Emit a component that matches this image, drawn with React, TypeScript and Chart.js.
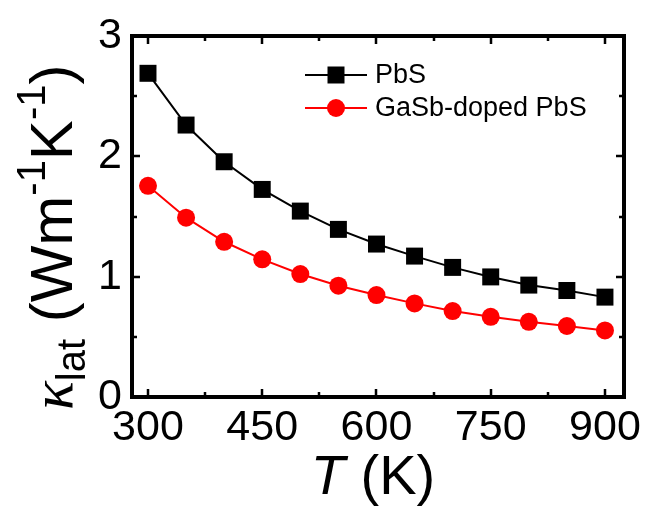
import { useEffect, useRef } from "react";
import { Chart, registerables } from "chart.js";
Chart.register(...registerables);

const temperatures = [300, 350, 400, 450, 500, 550, 600, 650, 700, 750, 800, 850, 900];
const pbsValues = [2.69, 2.26, 1.955, 1.725, 1.545, 1.393, 1.271, 1.171, 1.077, 0.998, 0.93, 0.885, 0.83];
const gasbValues = [1.755, 1.49, 1.29, 1.144, 1.022, 0.925, 0.847, 0.778, 0.714, 0.666, 0.625, 0.59, 0.553];
const seriesNames = ["PbS", "GaSb-doped PbS"];
const xMajorTicks = [300, 450, 600, 750, 900];
const xMinorTicks = [375, 525, 675, 825];
const yMajorTicks = [0, 1, 2, 3];
const yMinorTicks = [0.5, 1.5, 2.5];

const SANS = "'Liberation Sans', Arial, sans-serif";

const framePlugin = {
  id: "frame",
  afterDatasetsDraw(chart: any) {
    const { ctx, chartArea: a, scales } = chart;
    const xs = scales.x;
    const ys = scales.y;
    ctx.save();
    ctx.strokeStyle = "#000";
    ctx.lineWidth = 2.5;
    const drawX = (v: number, len: number) => {
      const px = Math.round(xs.getPixelForValue(v));
      ctx.beginPath();
      ctx.moveTo(px, a.bottom);
      ctx.lineTo(px, a.bottom - len);
      ctx.moveTo(px, a.top);
      ctx.lineTo(px, a.top + len);
      ctx.stroke();
    };
    const drawY = (v: number, len: number) => {
      const py = Math.round(ys.getPixelForValue(v));
      ctx.beginPath();
      ctx.moveTo(a.left, py);
      ctx.lineTo(a.left + len, py);
      ctx.moveTo(a.right, py);
      ctx.lineTo(a.right - len, py);
      ctx.stroke();
    };
    xMajorTicks.forEach((v) => drawX(v, 8));
    xMinorTicks.forEach((v) => drawX(v, 5));
    yMajorTicks.forEach((v) => drawY(v, 8));
    yMinorTicks.forEach((v) => drawY(v, 5));
    ctx.lineWidth = 4;
    ctx.strokeRect(a.left, a.top, a.right - a.left, a.bottom - a.top);

    // legend
    const legendItems = [
      { label: seriesNames[0], color: "#000", style: "rect" },
      { label: seriesNames[1], color: "#ff0000", style: "circle" },
    ];
    const lx0 = 305, lx1 = 367, mx = 336, tx = 375;
    const rows = [75, 108];
    legendItems.forEach((it, i) => {
      const y = rows[i];
      ctx.strokeStyle = it.color;
      ctx.fillStyle = it.color;
      ctx.lineWidth = 2;
      ctx.beginPath();
      ctx.moveTo(lx0, y);
      ctx.lineTo(lx1, y);
      ctx.stroke();
      ctx.beginPath();
      if (it.style === "rect") {
        ctx.rect(mx - 8.5, y - 8.5, 17, 17);
      } else {
        ctx.arc(mx, y, 9, 0, Math.PI * 2);
      }
      ctx.fill();
      ctx.fillStyle = "#000";
      ctx.font = `27px ${SANS}`;
      ctx.textBaseline = "middle";
      ctx.textAlign = "left";
      ctx.fillText(it.label, tx, y + 1);
    });

    // x title: T (K)
    ctx.fillStyle = "#000";
    ctx.textBaseline = "alphabetic";
    ctx.textAlign = "left";
    const fItal = `italic 56px ${SANS}`;
    const fReg = `56px ${SANS}`;
    ctx.font = fItal;
    const wT = ctx.measureText("T").width;
    ctx.font = fReg;
    const wK = ctx.measureText(" (K)").width;
    const cx = (a.left + a.right) / 2 - 5;
    let x = cx - (wT + wK) / 2;
    const by = 494;
    ctx.font = fItal;
    ctx.fillText("T", x, by);
    x += wT;
    ctx.font = fReg;
    ctx.fillText(" (K)", x, by);

    // y title
    ctx.save();
    ctx.translate(72, 410);
    ctx.rotate(-Math.PI / 2);
    let p = 0;
    const piece = (t: string, font: string, dy: number) => {
      ctx.font = font;
      ctx.fillText(t, p, dy);
      p += ctx.measureText(t).width;
    };
    const main = `60px ${SANS}`;
    const small = `40px ${SANS}`;
    piece("\u03ba", `italic 60px 'Liberation Serif', 'Times New Roman', serif`, 0);
    piece("lat", small, 13);
    piece(" (Wm", main, 0);
    piece("-1", small, -27);
    piece("K", main, 0);
    piece("-1", small, -27);
    piece(")", main, 0);
    ctx.restore();

    ctx.restore();
  },
};

export default function App() {
  const ref = useRef<HTMLCanvasElement | null>(null);
  useEffect(() => {
    if (!ref.current) return;
    const chart = new Chart(ref.current, {
      type: "line",
      data: {
        datasets: [
          {
            label: seriesNames[0],
            data: temperatures.map((t, i) => ({ x: t, y: pbsValues[i] })),
            borderColor: "#000",
            backgroundColor: "#000",
            borderWidth: 2,
            pointStyle: "rect",
            pointRadius: 12,
            pointBorderWidth: 0,
            tension: 0,
            clip: false,
          },
          {
            label: seriesNames[1],
            data: temperatures.map((t, i) => ({ x: t, y: gasbValues[i] })),
            borderColor: "#ff0000",
            backgroundColor: "#ff0000",
            borderWidth: 2,
            pointStyle: "circle",
            pointRadius: 9,
            pointBorderWidth: 0,
            tension: 0,
            clip: false,
          },
        ],
      },
      options: {
        responsive: false,
        animation: false,
        devicePixelRatio: 1,
        layout: { padding: { top: 36, right: 23, left: 0, bottom: 0 } },
        plugins: { legend: { display: false }, tooltip: { enabled: false } },
        scales: {
          x: {
            type: "linear",
            min: 279,
            max: 925,
            grid: { display: false, drawTicks: false },
            border: { display: false },
            afterBuildTicks: (s: any) => {
              s.ticks = xMajorTicks.map((v) => ({ value: v }));
            },
            afterFit: (s: any) => {
              s.height = 117;
            },
            ticks: {
              color: "#000",
              font: { family: SANS, size: 43 },
              padding: 5,
              maxRotation: 0,
              autoSkip: false,
              callback: (v: any) => String(v),
            },
          },
          y: {
            type: "linear",
            min: 0,
            max: 3,
            grid: { display: false, drawTicks: false },
            border: { display: false },
            afterBuildTicks: (s: any) => {
              s.ticks = yMajorTicks.map((v) => ({ value: v }));
            },
            afterFit: (s: any) => {
              s.width = 132;
            },
            ticks: {
              color: "#000",
              font: { family: SANS, size: 43 },
              padding: 10,
              callback: (v: any) => String(v),
            },
          },
        },
      },
      plugins: [framePlugin],
    } as any);
    return () => chart.destroy();
  }, []);
  return (
    <div style={{ position: "absolute", left: 0, top: 0, width: 647, height: 514, background: "#fff" }}>
      <canvas ref={ref} width={647} height={514} style={{ display: "block" }} />
    </div>
  );
}
